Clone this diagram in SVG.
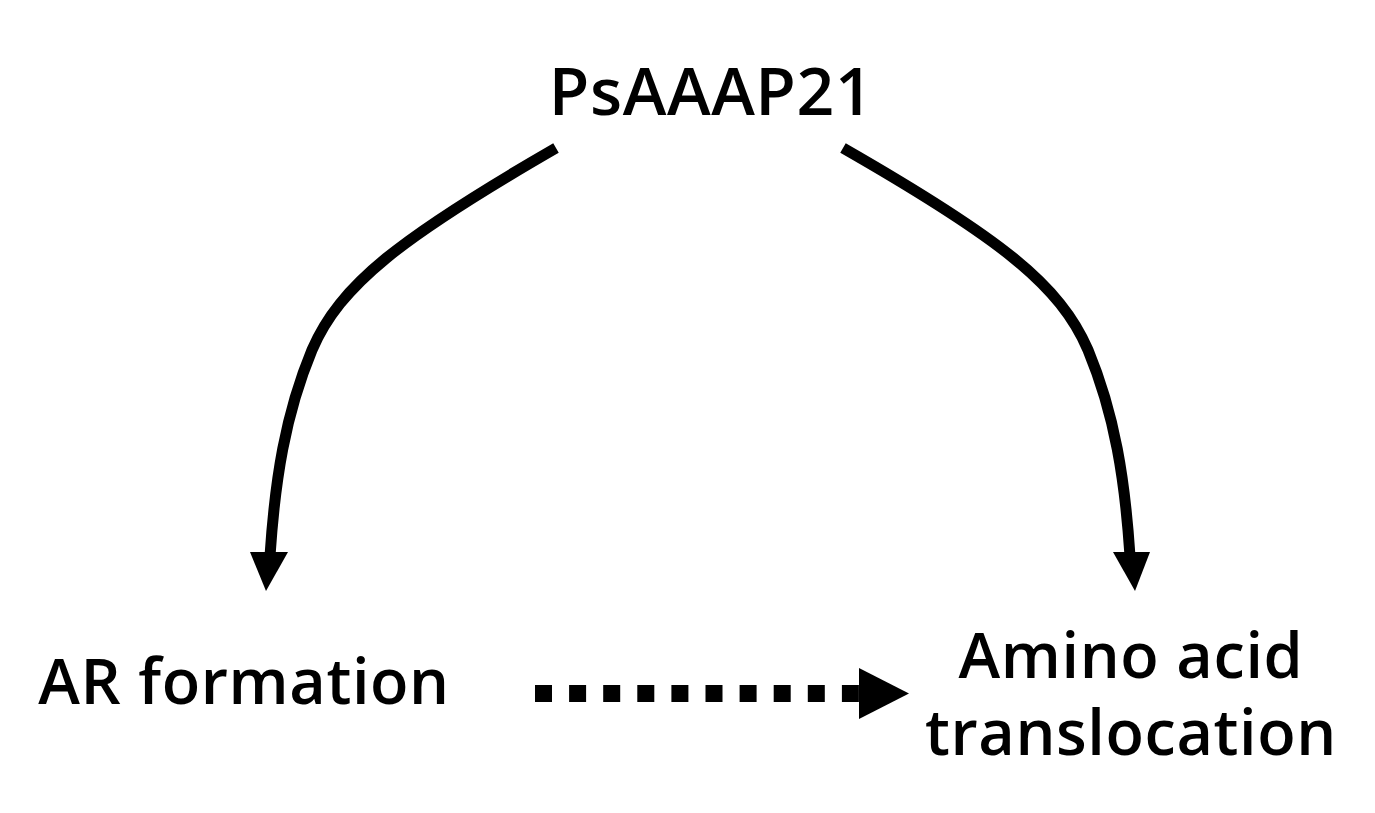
<svg xmlns="http://www.w3.org/2000/svg" width="1375" height="813" viewBox="0 0 1375 813">
<style>
.lbl{font-family:"Open Sans","Noto Sans","Liberation Sans",sans-serif;font-weight:600;fill:#000;letter-spacing:0.6px}
.edge{fill:none;stroke:#000;stroke-width:11}
.head{fill:#000}
</style>
<rect width="1375" height="813" fill="#fff"/>
<g id="node-psaaap21"><text class="lbl" x="711" y="115" font-size="66" text-anchor="middle">PsAAAP21</text></g>
<g id="node-ar"><text class="lbl" x="244" y="704" font-size="63" text-anchor="middle">AR formation</text></g>
<g id="node-amino"><text class="lbl" x="1131" y="678" font-size="63" text-anchor="middle">Amino acid</text><text class="lbl" x="1131" y="755" font-size="63" text-anchor="middle">translocation</text></g>
<g id="connectors">
<path class="edge" d="M556,148 C400,238 340,285 312,350 C285,415 275,480 270,556"/>
<polygon class="head" points="250,552 288,552 266,591"/>
<path class="edge" d="M843,148 C1000,238 1060,285 1088,350 C1115,415 1125,480 1130,556"/>
<polygon class="head" points="1113,552 1150,552 1135,591"/>
<line x1="535" y1="693.5" x2="860" y2="693.5" stroke="#000" stroke-width="17" stroke-dasharray="17 17.1"/>
<polygon class="head" points="859,668 909,693.5 859,719"/>
</g>
</svg>
